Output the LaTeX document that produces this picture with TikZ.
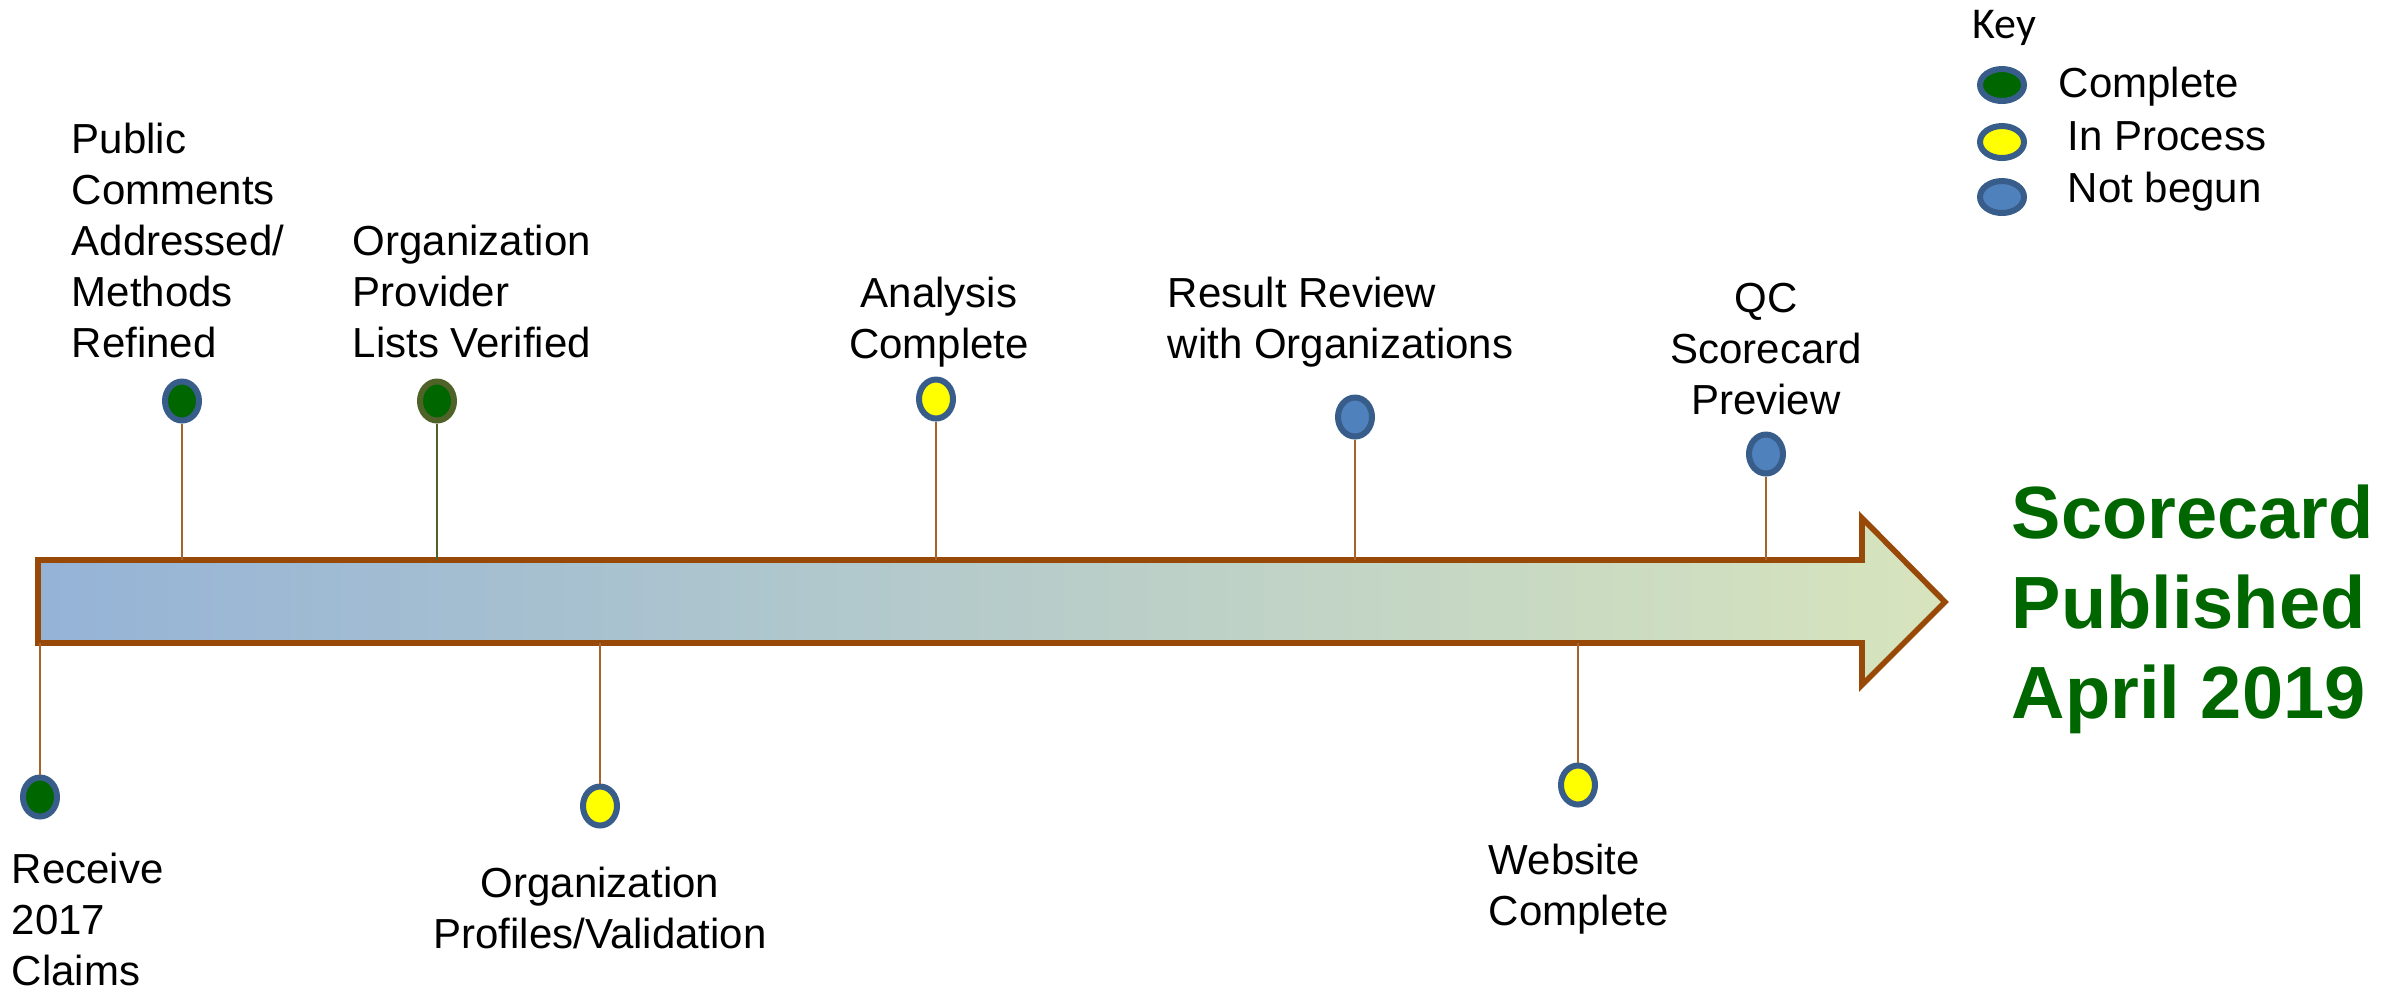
\documentclass[tikz,border=0pt]{standalone}
\usepackage{fontspec}
\setmainfont{Liberation Sans}
\newfontfamily\keyfont{Carlito}
\usetikzlibrary{shapes.geometric}
\definecolor{arrowbrown}{HTML}{984807}
\definecolor{rimblue}{HTML}{385D8A}
\definecolor{rimolive}{HTML}{4F6228}
\definecolor{done}{HTML}{006600}
\definecolor{busy}{HTML}{FFFF00}
\definecolor{todo}{HTML}{4F81BD}
\definecolor{shaftleft}{HTML}{95B3D7}
\definecolor{shaftright}{HTML}{D7E4BD}

\begin{document}
\begin{tikzpicture}[x=0.25pt, y=-0.25pt,
  main/.style = {draw=rimblue, ellipse, line width=1.5pt, inner sep=0pt, minimum width=8.5pt, minimum height=9.75pt},
  keymark/.style = {main, minimum width=11pt, minimum height=8pt},
  txt/.style = {font=\fontsize{10.5}{12.75}\selectfont, inner sep=0pt},
  stem/.style = {draw=arrowbrown!85!white, line width=0.5pt}]
  \useasboundingbox (0,0) rectangle (2402,990);
  \coordinate (top) at (38,560);
  \coordinate (bot) at (38,643);
  % the arrow
  \draw[arrowbrown, line width=1.4pt, left color=shaftleft, right color=shaftright]
    (38,560) -- (1862,560) -- (1862,518) -- (1945,602) -- (1862,685) -- (1862,643) -- (38,643) -- cycle;
  % milestones
  \node[main, fill=done] (1) at (40,797) {};
  \node[main, fill=done] (2) at (182,401) {};
  \node[main, fill=done, draw=rimolive] (3) at (437,401) {};
  \node[main, fill=busy] (4) at (600,806) {};
  \node[main, fill=busy] (5) at (936,399) {};
  \node[main, fill=todo] (6) at (1355,417) {};
  \node[main, fill=busy] (7) at (1578,785) {};
  \node[main, fill=todo] (8) at (1766,454) {};
  \draw[stem] (1) -- (1 |- bot);
  \draw[stem] (2) -- (2 |- top);
  \draw[stem, draw=rimolive] (3) -- (3 |- top);
  \draw[stem] (4) -- (4 |- bot);
  \draw[stem] (5) -- (5 |- top);
  \draw[stem] (6) -- (6 |- top);
  \draw[stem] (7) -- (7 |- bot);
  \draw[stem] (8) -- (8 |- top);
  % labels (base = last line)
  \node[txt, anchor=base west, align=left] (t1) at (11,985) {Receive\\2017\\Claims};
  \node[txt, anchor=base west, align=left] (t2) at (71,357) {Public\\Comments\\Addressed/\\Methods\\Refined};
  \node[txt, anchor=base west, align=left] (t3) at (352,357) {Organization\\Provider\\Lists Verified};
  \node[txt, anchor=base, align=center] (t4) at (600,948) {Organization\\Profiles/Validation};
  \node[txt, anchor=base, align=center] (t5) at (939,358) {Analysis\\Complete};
  \node[txt, anchor=base west, align=left] (t6) at (1167,358) {Result Review\\with Organizations};
  \node[txt, anchor=base west, align=left] (t7) at (1488,925) {Website\\Complete};
  \node[txt, anchor=base, align=center] (t8) at (1766,414) {QC\\Scorecard\\Preview};
  \node[anchor=base west, align=left, inner sep=0pt, text=done,
    font=\bfseries\fontsize{18.5}{22.5}\selectfont] (goal) at (2011,718) {Scorecard\\Published\\April 2019};
  % key
  \node[anchor=base west, inner sep=0pt, font=\keyfont\fontsize{11}{13}\selectfont] (key) at (1972,38) {Key};
  \node[keymark, fill=done] (k1) at (2002,85) {};
  \node[keymark, fill=busy] (k2) at (2002,142) {};
  \node[keymark, fill=todo] (k3) at (2002,197) {};
  \node[txt, anchor=base west] (l1) at (2058,97) {Complete};
  \node[txt, anchor=base west] (l2) at (2067,150) {In Process};
  \node[txt, anchor=base west] (l3) at (2067,202) {Not begun};
\end{tikzpicture}
\end{document}
